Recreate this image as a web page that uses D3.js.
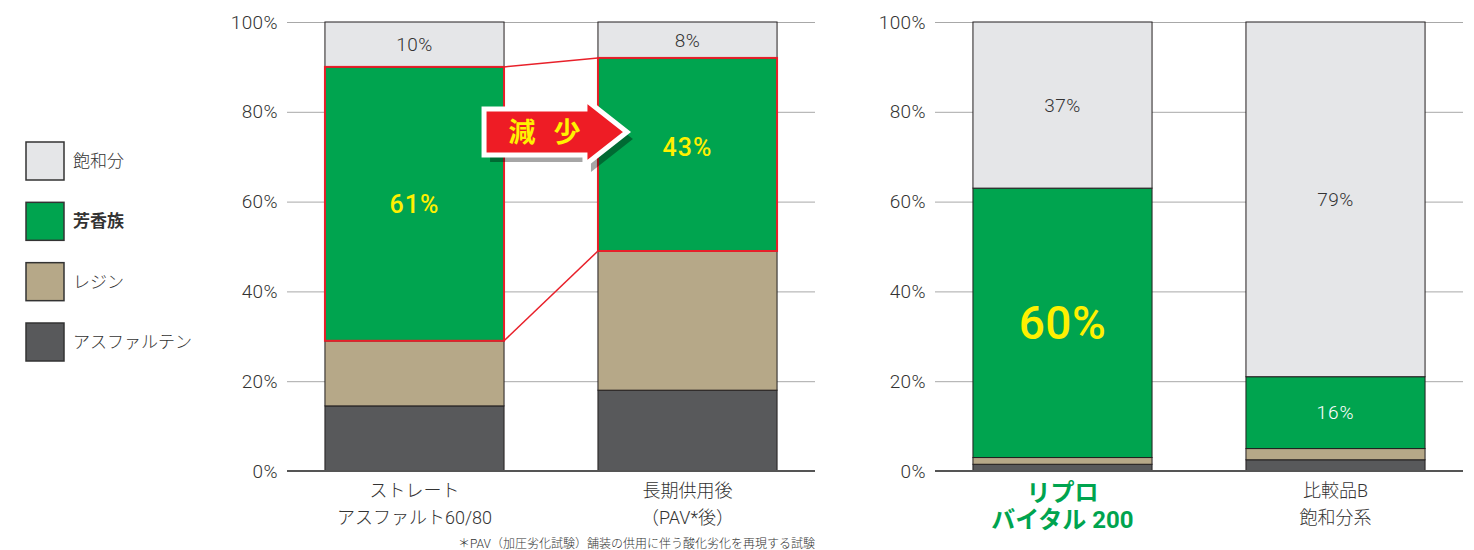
<html>
  <head>
    <script src="https://d3js.org/d3.v7.min.js"></script>
    <style>
      body { margin: 0; background: white; }
      text { font-family: Roboto, "Noto Sans CJK JP", sans-serif; fill: #333; }
      .tick line { stroke: #a8a8a8; }
      .tick text { font-size: 19px; font-weight: 300; letter-spacing: 0.4px; }
      .domain { display: none; }
    </style>
  </head>
  <body>
    <script>
      // categories (two per panel) and their two-line labels
      var categories = ["straight", "pav", "liprovital", "compB"];
      var categoryLines = [
        ["ストレート", "アスファルト60/80"],
        ["長期供用後", "（PAV*後）"],
        ["リプロ", "バイタル 200"],
        ["比較品B", "飽和分系"]
      ];

      // composition, % (bottom to top)
      var seriesNames = ["アスファルテン", "レジン", "芳香族", "飽和分"];
      var asphaltenes = [14.5, 18, 1.5, 2.5];
      var resins = [14.5, 31, 1.5, 2.5];
      var aromatics = [61, 43, 60, 16];
      var saturates = [10, 8, 37, 79];
      var seriesColors = ["#58595b", "#b6a888", "#00a44f", "#e5e6e8"];

      var yTicks = [0, 20, 40, 60, 80, 100];
      var footnote = "＊PAV（加圧劣化試験）舗装の供用に伴う酸化劣化を再現する試験";

      var rows = categories.map(function(c, i) {
        return { cat: c, "アスファルテン": asphaltenes[i], "レジン": resins[i], "芳香族": aromatics[i], "飽和分": saturates[i] };
      });
      var stacked = d3.stack().keys(seriesNames)(rows);

      var svg = d3.select("body").append("svg").attr("width", 1474).attr("height", 550);

      var y = d3.scaleLinear().domain([0, 100]).range([471, 22]);

      var panels = [
        { cats: categories.slice(0, 2), x0: 287, x1: 815 },
        { cats: categories.slice(2, 4), x0: 935, x1: 1463 }
      ];

      panels.forEach(function(p) {
        p.x = d3.scaleBand().domain(p.cats).range([p.x0, p.x1])
          .paddingInner(0.344).paddingOuter(0.139);

        svg.append("g")
          .attr("transform", "translate(" + p.x0 + ",0)")
          .call(d3.axisLeft(y).tickValues(yTicks).tickSize(-(p.x1 - p.x0)).tickPadding(9)
            .tickFormat(function(d) { return d + "%"; }));

        stacked.forEach(function(layer, si) {
          svg.append("g").selectAll("rect")
            .data(layer.filter(function(d) { return p.cats.indexOf(d.data.cat) >= 0; }))
            .join("rect")
            .attr("x", function(d) { return p.x(d.data.cat); })
            .attr("y", function(d) { return y(d[1]); })
            .attr("width", p.x.bandwidth())
            .attr("height", function(d) { return y(d[0]) - y(d[1]); })
            .attr("fill", seriesColors[si])
            .attr("stroke", "#231f20")
            .attr("stroke-width", 1);
        });

        // baseline
        svg.append("line")
          .attr("x1", p.x0).attr("x2", p.x1)
          .attr("y1", y(0)).attr("y2", y(0))
          .attr("stroke", "#555").attr("stroke-width", 2);

        // category labels
        p.cats.forEach(function(c) {
          var i = categories.indexOf(c);
          var green = c === "liprovital";
          var t = svg.append("text")
            .attr("x", p.x(c) + p.x.bandwidth() / 2)
            .attr("text-anchor", "middle")
            .style("font-size", green ? "24px" : "18px")
            .style("font-weight", green ? "bold" : 300)
            .style("fill", green ? "#00a44f" : "#333");
          categoryLines[i].forEach(function(line, k) {
            t.append("tspan").attr("x", p.x(c) + p.x.bandwidth() / 2)
              .attr("y", (green ? 501 : 497) + k * 26.5).text(line);
          });
        });
      });

      var xOf = function(c) {
        var p = panels[0].cats.indexOf(c) >= 0 ? panels[0] : panels[1];
        return p.x;
      };

      // value labels for saturates and aromatics
      var satLayer = stacked[3], aroLayer = stacked[2];
      satLayer.forEach(function(d) {
        var x = xOf(d.data.cat);
        svg.append("text")
          .attr("x", x(d.data.cat) + x.bandwidth() / 2)
          .attr("y", (y(d[0]) + y(d[1])) / 2)
          .attr("dy", "0.36em")
          .attr("text-anchor", "middle")
          .style("font-size", "19px").style("font-weight", 300).style("letter-spacing", "0.4px")
          .text(d.data["飽和分"] + "%");
      });
      aroLayer.forEach(function(d) {
        var x = xOf(d.data.cat);
        var c = d.data.cat;
        var big = c === "liprovital", white = c === "compB";
        svg.append("text")
          .attr("x", x(c) + x.bandwidth() / 2)
          .attr("y", (y(d[0]) + y(d[1])) / 2 - (c === "pav" ? 7 : 0))
          .attr("dy", "0.36em")
          .attr("text-anchor", "middle")
          .style("font-size", big ? "46px" : (white ? "19px" : "25px"))
          .style("font-weight", white ? 300 : 500)
          .style("letter-spacing", big ? "0.5px" : "1px")
          .style("fill", white ? "#fff" : "#fff000")
          .text(d.data["芳香族"] + "%");
      });

      // red outline on aromatic segments of the first two bars + connectors
      var xl = panels[0].x, bw = xl.bandwidth();
      var a0 = aroLayer[0], a1 = aroLayer[1];
      svg.append("g").selectAll("rect").data([a0, a1]).join("rect")
        .attr("x", function(d) { return xl(d.data.cat); })
        .attr("y", function(d) { return y(d[1]); })
        .attr("width", bw)
        .attr("height", function(d) { return y(d[0]) - y(d[1]); })
        .attr("fill", "none").attr("stroke", "#e8202a").attr("stroke-width", 2);
      svg.append("line")
        .attr("x1", xl(a0.data.cat) + bw).attr("y1", y(a0[1]))
        .attr("x2", xl(a1.data.cat)).attr("y2", y(a1[1]))
        .attr("stroke", "#e8202a").attr("stroke-width", 1.5);
      svg.append("line")
        .attr("x1", xl(a0.data.cat) + bw).attr("y1", y(a0[0]))
        .attr("x2", xl(a1.data.cat)).attr("y2", y(a1[0]))
        .attr("stroke", "#e8202a").attr("stroke-width", 1.5);

      // "減少" arrow
      var ax0 = xl(a0.data.cat) + bw - 20, ax1 = xl(a1.data.cat) + 29, ay = y(75.5);
      var len = ax1 - ax0;
      var arrow = "M0,-23 L" + (len - 42) + ",-23 L" + (len - 42) + ",-33 L" + len + ",0 L" +
        (len - 42) + ",33 L" + (len - 42) + ",23 L0,23 Z";
      var ag = svg.append("g").attr("transform", "translate(" + ax0 + "," + ay + ")");
      ag.append("path").attr("d", arrow).attr("transform", "translate(6,7)")
        .attr("fill", "#000").attr("opacity", 0.35);
      ag.append("path").attr("d", arrow).attr("fill", "#ee1c25")
        .attr("stroke", "#fff").attr("stroke-width", 5).attr("stroke-linejoin", "miter");
      ["減", "少"].forEach(function(ch, k) {
        ag.append("text").attr("x", 38 + k * 45).attr("y", 0).attr("dy", "0.36em")
          .attr("text-anchor", "middle")
          .style("font-size", "27px").style("font-weight", "bold").style("fill", "#fff200")
          .style("font-family", "'Noto Sans CJK JP'")
          .text(ch);
      });

      // legend (top to bottom: saturates first)
      var legendOrder = seriesNames.slice().reverse();
      var ly = d3.scalePoint().domain(legendOrder).range([161, 342]);
      var lg = svg.append("g").selectAll("g").data(legendOrder).join("g")
        .attr("transform", function(d) { return "translate(26," + ly(d) + ")"; });
      lg.append("rect").attr("x", 0).attr("y", -19).attr("width", 38).attr("height", 38)
        .attr("fill", function(d) { return seriesColors[seriesNames.indexOf(d)]; })
        .attr("stroke", "#333").attr("stroke-width", 1.5);
      lg.append("text").attr("x", 47).attr("dy", "0.36em")
        .style("font-size", "17px")
        .style("font-weight", function(d) { return d === "芳香族" ? "bold" : 300; })
        .text(function(d) { return d; });

      // footnote
      svg.append("text").attr("x", 815).attr("y", 548)
        .attr("text-anchor", "end")
        .style("font-size", "12px").style("font-weight", 300)
        .text(footnote);
    </script>
  </body>
</html>
